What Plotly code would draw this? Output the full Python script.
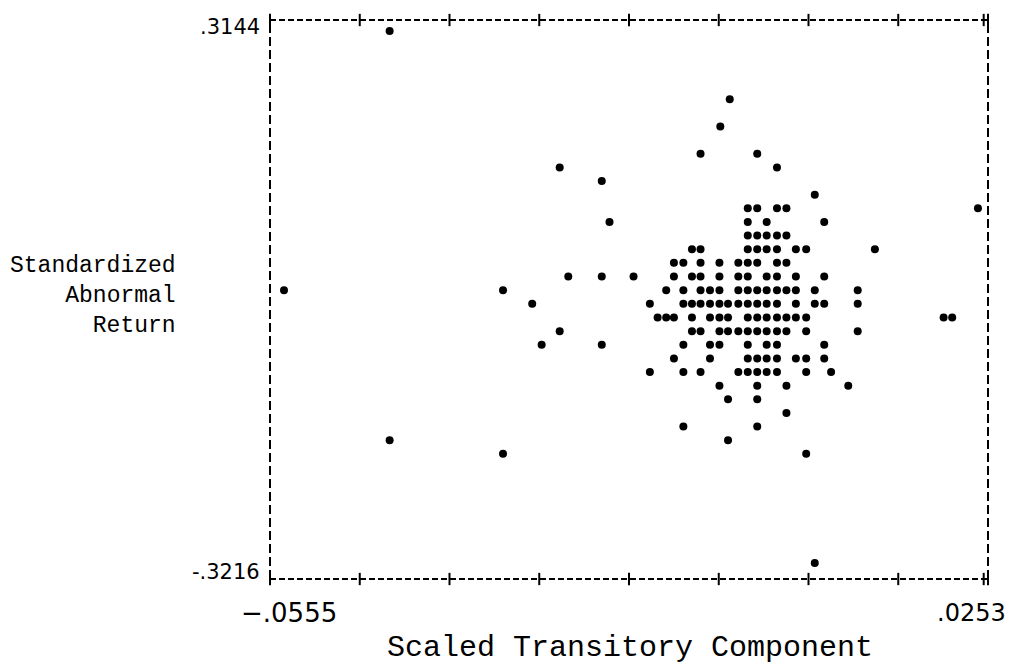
import plotly.graph_objects as go

# Standardized abnormal return (y) per printer row, with the scaled transitory component (x) values on that row
row_y = [0.3144, 0.2329, 0.2002, 0.1676, 0.1513, 0.1350, 0.1187, 0.1024, 0.0861, 0.0698,
         0.0535, 0.0372, 0.0209, 0.0045, -0.0118, -0.0281, -0.0444, -0.0607, -0.0770,
         -0.0933, -0.1096, -0.1259, -0.1422, -0.1585, -0.1748, -0.1911, -0.3216]

row_x = [
    [-0.0432],
    [-0.0036],
    [-0.0047],
    [-0.0070, -0.0004],
    [-0.0234, 0.0019],
    [-0.0185],
    [0.0063],
    [-0.0015, -0.0004, 0.0019, 0.0030, 0.0253],
    [-0.0176, -0.0015, 0.0007, 0.0074],
    [-0.0015, -0.0004, 0.0007, 0.0019, 0.0030],
    [-0.0080, -0.0070, -0.0015, -0.0004, 0.0007, 0.0019, 0.0041, 0.0053, 0.0133],
    [-0.0101, -0.0090, -0.0070, -0.0048, -0.0026, -0.0015, -0.0004, 0.0019, 0.0030],
    [-0.0224, -0.0185, -0.0148, -0.0101, -0.0080, -0.0070, -0.0048, -0.0026, -0.0015,
     0.0007, 0.0019, 0.0041, 0.0074],
    [-0.0555, -0.0300, -0.0110, -0.0090, -0.0070, -0.0059, -0.0048, -0.0026, -0.0015,
     -0.0004, 0.0007, 0.0019, 0.0030, 0.0041, 0.0063, 0.0113],
    [-0.0266, -0.0129, -0.0090, -0.0080, -0.0070, -0.0059, -0.0048, -0.0038, -0.0026,
     -0.0015, -0.0004, 0.0007, 0.0019, 0.0041, 0.0063, 0.0074, 0.0113],
    [-0.0120, -0.0110, -0.0101, -0.0080, -0.0059, -0.0048, -0.0038, -0.0015, -0.0004,
     0.0007, 0.0019, 0.0030, 0.0041, 0.0053, 0.0213, 0.0223],
    [-0.0234, -0.0080, -0.0070, -0.0048, -0.0038, -0.0026, -0.0015, -0.0004, 0.0007,
     0.0019, 0.0030, 0.0053, 0.0113],
    [-0.0255, -0.0185, -0.0090, -0.0059, -0.0048, -0.0015, 0.0007, 0.0019, 0.0074],
    [-0.0101, -0.0059, -0.0015, -0.0004, 0.0007, 0.0019, 0.0041, 0.0053, 0.0074],
    [-0.0129, -0.0090, -0.0070, -0.0026, -0.0015, -0.0004, 0.0007, 0.0019, 0.0053, 0.0082],
    [-0.0048, -0.0004, 0.0030, 0.0102],
    [-0.0038, -0.0004],
    [0.0030],
    [-0.0090, -0.0004],
    [-0.0432, -0.0038],
    [-0.0300, 0.0053],
    [0.0063],
]

x_tick_labels = ["−.0555", ".0253"]
y_tick_labels = [".3144", "-.3216"]
x_min, x_max = -0.0555, 0.0253
y_max, y_min = 0.3144, -0.3216

xs, ys = [], []
for yv, xrow in zip(row_y, row_x):
    for xv in xrow:
        xs.append(xv)
        ys.append(yv)

fig = go.Figure()
fig.add_trace(go.Scatter(
    x=xs, y=ys, mode="markers",
    marker=dict(symbol="circle", size=8, color="black", line=dict(width=0)),
    hoverinfo="x+y", showlegend=False,
))

dash_h = "6px,3px"
dash_v = "9px,4px"
lc = "black"
shapes = [
    dict(type="line", xref="paper", yref="paper", x0=0, x1=1, y0=1, y1=1,
         line=dict(color=lc, width=2, dash=dash_h)),
    dict(type="line", xref="paper", yref="paper", x0=0, x1=1, y0=0, y1=0,
         line=dict(color=lc, width=2, dash=dash_h)),
    dict(type="line", xref="paper", yref="paper", x0=0, x1=0, y0=0, y1=1,
         line=dict(color=lc, width=2, dash=dash_v)),
    dict(type="line", xref="paper", yref="paper", x0=1, x1=1, y0=0, y1=1,
         line=dict(color=lc, width=2, dash=dash_v)),
]
tick_fracs = [i / 8 for i in range(9)] + [0.994]
for f in tick_fracs:
    for yc in (0, 1):
        shapes.append(dict(type="line", xref="paper", yref="paper", x0=f, x1=f,
                           y0=yc - 0.011, y1=yc + 0.011,
                           line=dict(color=lc, width=2)))

mono = "Liberation Mono"
annotations = [
    dict(x=-0.011, xref="paper", y=y_max, yref="y", text=y_tick_labels[0],
         showarrow=False, xanchor="right", yanchor="middle", yshift=4,
         font=dict(family="DejaVu Sans", size=21, color="black")),
    dict(x=-0.011, xref="paper", y=y_min, yref="y", text=y_tick_labels[1],
         showarrow=False, xanchor="right", yanchor="middle", yshift=-9,
         font=dict(family="DejaVu Sans", size=21, color="black")),
    dict(x=x_min, xref="x", y=0, yref="paper", text=x_tick_labels[0],
         showarrow=False, xanchor="center", yanchor="middle", yshift=-34, xshift=5,
         font=dict(family="DejaVu Sans", size=26, color="black")),
    dict(x=x_max, xref="x", y=0, yref="paper", text=x_tick_labels[1],
         showarrow=False, xanchor="center", yanchor="middle", yshift=-34, xshift=-6,
         font=dict(family="DejaVu Sans", size=24, color="black")),
    dict(x=0.5, xref="paper", y=0, yref="paper", text="Scaled Transitory Component",
         showarrow=False, xanchor="center", yanchor="middle", yshift=-69, xshift=1,
         font=dict(family=mono, size=30, color="black")),
    dict(x=-0.128, xref="paper", y=0.506, yref="paper",
         text="Standardized<br>Abnormal<br>Return", align="right",
         showarrow=False, xanchor="right", yanchor="middle",
         font=dict(family=mono, size=23, color="black")),
]

fig.update_layout(
    width=1022, height=669,
    margin=dict(l=270, r=34, t=20, b=90),
    paper_bgcolor="white", plot_bgcolor="white",
    xaxis=dict(range=[-0.05713, 0.02647], visible=False, fixedrange=True),
    yaxis=dict(range=[-0.34073, 0.32755], visible=False, fixedrange=True),
    shapes=shapes, annotations=annotations,
    showlegend=False,
)

fig.write_html("out.html")
